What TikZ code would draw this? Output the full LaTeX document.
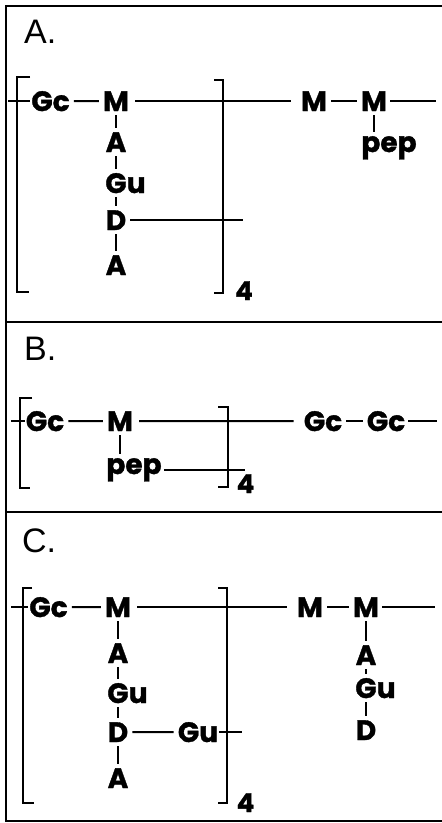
\documentclass[tikz,border=0pt]{standalone}
\usepackage{fontspec}
\newfontfamily\chemfont{Poppins}[BoldFeatures={FakeBold=1.2}]
\newfontfamily\labfont{Liberation Sans}
\tikzset{
  res/.style={font=\chemfont\bfseries\fontsize{28}{28}\selectfont, inner sep=0pt, anchor=base},
  sub/.style={font=\chemfont\bfseries\fontsize{26}{26}\selectfont, inner sep=0pt, anchor=base},
  lbl/.style={font=\labfont\fontsize{34}{34}\selectfont, inner sep=0pt, anchor=base west},
  bond/.style={line width=2pt, shorten <=4pt, shorten >=4pt},
  longbond/.style={line width=2pt, shorten <=6pt, shorten >=10pt},
  vbond/.style={line width=2pt, shorten <=4pt, shorten >=4pt},
  stub/.style={line width=2pt, shorten >=1pt},
  brk/.style={line width=2.7pt},
  frm/.style={line width=2.5pt}
}
\begin{document}
\begin{tikzpicture}[x=1pt,y=-1pt]
\useasboundingbox (0,0) rectangle (442,823);
% frame
\draw[frm] (442,6) -- (6,6) -- (6,821) -- (442,821);
\draw[frm] (6,322) -- (442,322);
\draw[frm] (6,512) -- (442,512);

% ---------------- Panel A
\node[lbl] (labA) at (24,43) {A.};
\draw[brk] (30,77) -- (17,77) -- (17,292) -- (29,292);
\draw[brk] (214,80) -- (223,80) -- (223,293) -- (214,293);
\node[res] (gcA) at (50.5,111) {Gc};
\node[res] (mA) at (116,111) {M};
\node[res] (aA1) at (116,152) {A};
\node[res] (guA) at (116,193) {G\rlap{u}};
\node[res] (dA) at (116,230) {D};
\node[res] (aA2) at (116,275) {A};
\node[res] (m2A) at (314,111) {M};
\node[res] (m3A) at (374,111) {M};
\node[res] (pepA) at (389,152) {pep};
\node[sub] (fourA) at (244,300) {4};
\coordinate (lA) at (8,0);
\coordinate (rA) at (436,0);
\coordinate (dendA) at (243,0);
\draw[stub] (lA |- gcA.west) -- (gcA.west);
\draw[bond] (gcA.east) -- (mA.west);
\draw[longbond] (mA.east) -- (m2A.west);
\draw[bond] (m2A.east) -- (m3A.west);
\draw[line width=2pt, shorten <=3pt] (m3A.east) -- (m3A.east -| rA);
\draw[vbond] (mA.south) -- (aA1.north);
\draw[vbond] (aA1.south) -- (guA.north);
\draw[vbond] (guA.south) -- (dA.north);
\draw[vbond] (dA.south) -- (aA2.north);
\draw[vbond] (m3A.south) -- (m3A.south |- pepA.north);
\draw[line width=2pt, shorten <=4pt] (dA.east) -- (dA.east -| dendA);

% ---------------- Panel B
\node[lbl] (labB) at (24,360) {B.};
\draw[brk] (32,398) -- (20,398) -- (20,488) -- (30,488);
\draw[brk] (218,407) -- (228,407) -- (228,487) -- (218,487);
\node[res] (gcB) at (45,431) {Gc};
\node[res] (mB) at (120,431) {M};
\node[res] (pepB) at (134,474) {pep};
\node[res] (gc2B) at (323,431) {Gc};
\node[res] (gc3B) at (386,431) {Gc};
\node[sub] (fourB) at (245.5,493) {4};
\coordinate (lB) at (11,0);
\coordinate (rB) at (437,0);
\coordinate (pendB) at (245,0);
\draw[stub] (lB |- gcB.west) -- (gcB.west);
\draw[bond] (gcB.east) -- (mB.west);
\draw[longbond] (mB.east) -- (gc2B.west);
\draw[bond] (gc2B.east) -- (gc3B.west);
\draw[line width=2pt, shorten <=3pt] (gc3B.east) -- (gc3B.east -| rB);
\draw[vbond] (mB.south) -- (mB.south |- pepB.north);
\draw[line width=2pt, shorten <=2pt] (pepB.east) -- (pepB.east -| pendB);

% ---------------- Panel C
\node[lbl] (labC) at (22,552) {C.};
\draw[brk] (32,588) -- (23,588) -- (23,803) -- (34,803);
\draw[brk] (218,588) -- (227,588) -- (227,803) -- (218,803);
\node[res] (gcC) at (48.5,617) {Gc};
\node[res] (mC) at (118,617) {M};
\node[res] (aC1) at (118,663) {A};
\node[res] (guC) at (118,703) {G\rlap{u}};
\node[res] (dC) at (118,742) {D};
\node[res] (aC2) at (118,788) {A};
\node[res] (guC2) at (198,742) {Gu};
\node[res] (m2C) at (310,617) {M};
\node[res] (m3C) at (366,617) {M};
\node[res] (aC3) at (366,665) {A};
\node[res] (guC3) at (366,698) {G\rlap{u}};
\node[res] (dC3) at (366,740) {D};
\node[sub] (fourC) at (245.5,812) {4};
\coordinate (lC) at (11,0);
\coordinate (rC) at (435,0);
\coordinate (gendC) at (242,0);
\draw[stub] (lC |- gcC.west) -- (gcC.west);
\draw[bond] (gcC.east) -- (mC.west);
\draw[longbond] (mC.east) -- (m2C.west);
\draw[bond] (m2C.east) -- (m3C.west);
\draw[line width=2pt, shorten <=3pt] (m3C.east) -- (m3C.east -| rC);
\draw[vbond] (mC.south) -- (aC1.north);
\draw[vbond] (aC1.south) -- (guC.north);
\draw[vbond] (guC.south) -- (dC.north);
\draw[vbond] (dC.south) -- (aC2.north);
\draw[bond] (dC.east) -- (guC2.west);
\draw[line width=2pt, shorten <=1pt] (guC2.east) -- (guC2.east -| gendC);
\draw[vbond] (m3C.south) -- (aC3.north);
\draw[vbond] (aC3.south) -- (guC3.north);
\draw[vbond] (guC3.south) -- (dC3.north);
\end{tikzpicture}
\end{document}
